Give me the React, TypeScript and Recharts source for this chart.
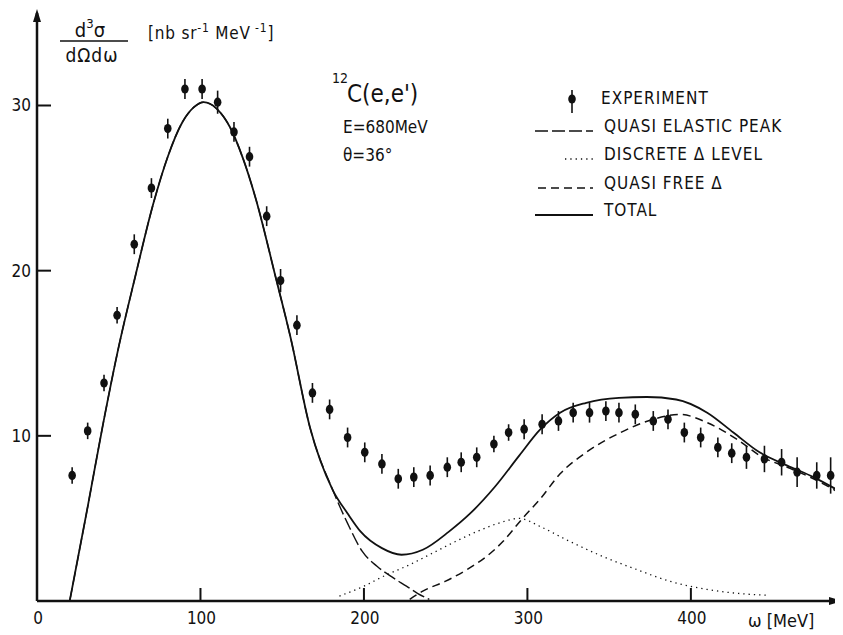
import React from 'react';
import {
  ComposedChart, Line, Scatter, XAxis, YAxis, ErrorBar, ReferenceDot
} from 'recharts';

// 12C(e,e'), E = 680 MeV, theta = 36 deg; omega in MeV, d3sigma in nb/(sr MeV)
const expOmega = [21.5, 31, 41, 49, 59.5, 70, 80, 90.5, 101, 110.5, 120.5, 130, 140.5, 149, 159, 168.5, 179, 190, 200.5, 211, 221, 230.5, 240.5, 251, 259.5, 269, 279.5, 288.5, 298, 309, 319, 328, 338, 348, 356, 366, 377, 386, 396, 406, 416.5, 425, 434, 445, 455.5, 465, 477, 485.5];
const expSigma = [7.6, 10.3, 13.2, 17.3, 21.6, 25.0, 28.6, 31.0, 31.0, 30.2, 28.4, 26.9, 23.3, 19.4, 16.7, 12.6, 11.6, 9.9, 9.0, 8.3, 7.4, 7.5, 7.6, 8.1, 8.4, 8.7, 9.5, 10.2, 10.4, 10.7, 10.9, 11.4, 11.4, 11.5, 11.4, 11.3, 10.9, 11.0, 10.2, 9.9, 9.3, 8.95, 8.7, 8.6, 8.4, 7.8, 7.6, 7.6];
const expError = [0.5, 0.5, 0.5, 0.5, 0.6, 0.6, 0.6, 0.6, 0.6, 0.7, 0.6, 0.6, 0.6, 0.7, 0.6, 0.6, 0.6, 0.6, 0.6, 0.6, 0.6, 0.6, 0.6, 0.6, 0.6, 0.6, 0.5, 0.5, 0.6, 0.6, 0.6, 0.6, 0.6, 0.6, 0.6, 0.6, 0.6, 0.6, 0.6, 0.6, 0.6, 0.6, 0.7, 0.8, 0.8, 0.9, 0.8, 1.1];

const totalOmega = [20, 31, 40, 50, 60, 71, 80, 89, 96, 102, 110, 118, 126, 134, 146, 155, 167, 181, 190, 198, 211, 223, 236, 252, 265, 280, 295, 308, 320, 336, 356, 373, 391, 410, 426, 442, 459, 475, 490];
const totalSigma = [0, 5.7, 10.5, 15.4, 19.6, 24.0, 26.9, 29.0, 29.9, 30.2, 29.8, 28.7, 26.8, 24.3, 19.6, 16.0, 10.5, 6.7, 5.3, 4.2, 3.2, 2.8, 3.1, 4.2, 5.3, 6.9, 8.8, 10.4, 11.4, 12.0, 12.3, 12.35, 12.2, 11.4, 10.2, 9.0, 8.2, 7.5, 6.7];

const qeOmega = [20, 31, 40, 50, 60, 71, 80, 89, 96, 102, 110, 118, 126, 134, 146, 155, 167, 181, 190, 199, 208, 218, 226, 233, 240];
const qeSigma = [0, 5.7, 10.5, 15.4, 19.6, 24.0, 26.9, 29.0, 29.9, 30.2, 29.8, 28.7, 26.8, 24.3, 19.6, 16.0, 10.5, 6.7, 4.7, 3.0, 2.1, 1.4, 0.9, 0.45, 0.1];

const discOmega = [185, 200, 212, 228, 242, 256, 269, 282, 295, 308, 324, 346, 367, 387, 410, 430, 447];
const discSigma = [0.3, 0.9, 1.5, 2.2, 2.9, 3.6, 4.2, 4.7, 5.0, 4.5, 3.7, 2.7, 1.9, 1.2, 0.7, 0.45, 0.35];

const qfOmega = [228, 236, 250, 263, 275, 285, 297, 308, 320, 336, 357, 377, 393, 410, 428, 444, 459, 475, 490];
const qfSigma = [0.1, 0.6, 1.2, 1.9, 2.7, 3.6, 5.0, 6.2, 7.7, 9.0, 10.2, 11.0, 11.3, 10.8, 9.8, 8.7, 8.1, 7.4, 6.6];

const xTicks = [0, 100, 200, 300, 400];
const yTicks = [10, 20, 30];

const pairs = (xs: number[], ys: number[]) => xs.map((x, i) => ({ x, y: ys[i] }));
const expData = expOmega.map((x, i) => ({ x, y: expSigma[i], err: expError[i] }));
const totalData = pairs(totalOmega, totalSigma);
const qeData = pairs(qeOmega, qeSigma);
const discData = pairs(discOmega, discSigma);
const qfData = pairs(qfOmega, qfSigma);

const FONT = "'Liberation Sans Narrow', 'DejaVu Sans Condensed', 'DejaVu Sans', sans-serif";
const INK = '#111';

function XTick(props: any) {
  const { x, y, payload } = props;
  return (
    <g>
      {payload.value !== 0 && <line x1={x} y1={y} x2={x} y2={y - 13} stroke={INK} strokeWidth={2} />}
      <text x={x + 1} y={y + 23} textAnchor="middle" fontFamily={FONT} fontSize={17} fill={INK}>
        {payload.value}
      </text>
    </g>
  );
}

function YTick(props: any) {
  const { x, y, payload } = props;
  return (
    <g>
      <line x1={x} y1={y} x2={x + 14} y2={y} stroke={INK} strokeWidth={2} />
      <text x={x - 6} y={y + 6} textAnchor="end" fontFamily={FONT} fontSize={17} fill={INK}>
        {payload.value}
      </text>
    </g>
  );
}

const ExpDot = (p: any) => <ellipse cx={p.cx} cy={p.cy} rx={3.8} ry={4.6} fill={INK} />;

const ArrowUp = (p: any) => (
  <path d={`M${p.cx},${p.cy - 4} L${p.cx - 4},${p.cy + 9} L${p.cx + 4},${p.cy + 9} Z`} fill={INK} />
);
const ArrowRight = (p: any) => (
  <path d={`M${p.cx + 4},${p.cy} L${p.cx - 9},${p.cy - 4} L${p.cx - 9},${p.cy + 4} Z`} fill={INK} />
);

const txt = { fontFamily: FONT, fill: INK } as const;

export default function App() {
  return (
    <div style={{ position: 'relative', width: 835, height: 627, background: '#fff' }}>
      <ComposedChart width={835} height={627} margin={{ top: 5, right: 5, left: 0, bottom: 0 }}>
        <XAxis
          dataKey="x" type="number" domain={[0, 490]} ticks={xTicks} interval={0}
          allowDataOverflow height={34} tickSize={0} tickMargin={0} tick={<XTick />}
          axisLine={{ stroke: INK, strokeWidth: 2.5 }}
        />
        <YAxis
          type="number" domain={[0, 35.6]} ticks={yTicks} interval={0}
          allowDataOverflow width={29} tickSize={0} tickMargin={0} tick={<YTick />}
          axisLine={{ stroke: INK, strokeWidth: 2.5 }}
        />
        <Line data={qeData} dataKey="y" type="monotone" stroke={INK} strokeWidth={1.4}
          strokeDasharray="13 4" dot={false} isAnimationActive={false} />
        <Line data={discData} dataKey="y" type="monotone" stroke={INK} strokeWidth={1.3}
          strokeDasharray="1.3 4" dot={false} isAnimationActive={false} />
        <Line data={qfData} dataKey="y" type="monotone" stroke={INK} strokeWidth={1.5}
          strokeDasharray="8 5" dot={false} isAnimationActive={false} />
        <Line data={totalData} dataKey="y" type="monotone" stroke={INK} strokeWidth={1.8}
          dot={false} isAnimationActive={false} />
        <Scatter data={expData} dataKey="y" shape={ExpDot} isAnimationActive={false}>
          <ErrorBar dataKey="err" direction="y" width={0} stroke={INK} strokeWidth={1.6} />
        </Scatter>
        <ReferenceDot x={0} y={35.6} r={0} ifOverflow="visible" shape={ArrowUp} />
        <ReferenceDot x={490} y={0} r={0} ifOverflow="visible" shape={ArrowRight} />
      </ComposedChart>

      <svg width={835} height={627} style={{ position: 'absolute', left: 0, top: 0, pointerEvents: 'none' }}>
        {/* y axis title */}
        <text x={82} y={29} textAnchor="middle" fontSize={20} {...txt}>
          d<tspan dy={-9} fontSize={13}>3</tspan><tspan dy={9}>σ</tspan>
        </text>
        <line x1={52} y1={33} x2={120} y2={33} stroke={INK} strokeWidth={1.5} />
        <text x={84} y={54} textAnchor="middle" fontSize={19} letterSpacing={1} {...txt}>dΩdω</text>
        <text x={140} y={31} fontSize={17} letterSpacing={0.8} {...txt}>
          [nb sr<tspan dy={-7} fontSize={12}>-1</tspan><tspan dy={7}> MeV</tspan>
          <tspan dy={-7} fontSize={12}> -1</tspan><tspan dy={7}>]</tspan>
        </text>

        {/* reaction */}
        <text x={324} y={75} fontSize={14} {...txt}>12</text>
        <text x={339} y={94} fontSize={24} {...txt}>C(e,e')</text>
        <text x={335} y={125} fontSize={17} {...txt}>E=680MeV</text>
        <text x={335} y={153} fontSize={17} {...txt}>θ=36°</text>

        {/* legend */}
        <line x1={564} y1={82} x2={564} y2={105} stroke={INK} strokeWidth={1.6} />
        <ellipse cx={564} cy={91} rx={3.8} ry={4.6} fill={INK} />
        <text x={593} y={96} fontSize={17} letterSpacing={1} {...txt}>EXPERIMENT</text>

        <line x1={527} y1={123} x2={585} y2={123} stroke={INK} strokeWidth={1.4} strokeDasharray="13 4" />
        <text x={596} y={124} fontSize={17} letterSpacing={1} {...txt}>QUASI ELASTIC PEAK</text>

        <line x1={557} y1={151} x2={585} y2={151} stroke={INK} strokeWidth={1.3} strokeDasharray="1.3 4" />
        <text x={596} y={152} fontSize={17} letterSpacing={1} {...txt}>DISCRETE Δ LEVEL</text>

        <line x1={530} y1={180} x2={585} y2={180} stroke={INK} strokeWidth={1.5} strokeDasharray="8 5" />
        <text x={596} y={181} fontSize={17} letterSpacing={1} {...txt}>QUASI FREE Δ</text>

        <line x1={527} y1={207} x2={585} y2={207} stroke={INK} strokeWidth={1.8} />
        <text x={596} y={208} fontSize={17} letterSpacing={1} {...txt}>TOTAL</text>

        {/* x axis title */}
        <text x={740} y={619} fontSize={18} {...txt}>ω [MeV]</text>
      </svg>
    </div>
  );
}
